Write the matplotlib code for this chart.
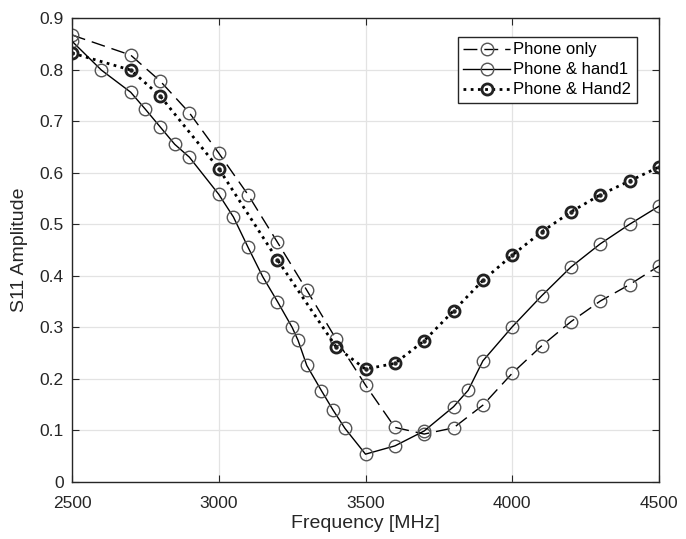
import matplotlib
matplotlib.use("Agg")
from matplotlib import pyplot as plt
import numpy as np

plt.rcParams["font.family"] = ["Liberation Sans", "DejaVu Sans"]

# phone only (dashed)
freq_phone = [2500, 2700, 2800, 2900, 3000, 3100, 3200, 3300, 3400, 3500,
              3600, 3700, 3800, 3900, 4000, 4100, 4200, 4300, 4400, 4500]
s11_phone = [0.867, 0.828, 0.778, 0.716, 0.638, 0.557, 0.465, 0.372, 0.277, 0.188,
             0.106, 0.093, 0.105, 0.149, 0.211, 0.264, 0.311, 0.351, 0.383, 0.419]

# phone & hand1 (solid)
freq_hand1 = [2500, 2600, 2700, 2750, 2800, 2850, 2900, 3000, 3050, 3100, 3150,
              3200, 3250, 3270, 3300, 3350, 3390, 3430, 3500, 3600, 3700, 3800,
              3850, 3900, 4000, 4100, 4200, 4300, 4400, 4500]
s11_hand1 = [0.855, 0.799, 0.756, 0.723, 0.689, 0.655, 0.630, 0.558, 0.514, 0.455, 0.398,
             0.350, 0.300, 0.275, 0.226, 0.177, 0.139, 0.104, 0.054, 0.070, 0.099, 0.146,
             0.178, 0.235, 0.301, 0.361, 0.417, 0.462, 0.500, 0.535]

# phone & hand2 (dotted)
freq_hand2 = [2500, 2700, 2800, 3000, 3200, 3400, 3500, 3600, 3700, 3800,
              3900, 4000, 4100, 4200, 4300, 4400, 4500]
s11_hand2 = [0.832, 0.799, 0.749, 0.608, 0.431, 0.262, 0.219, 0.230, 0.274, 0.332,
             0.391, 0.440, 0.485, 0.524, 0.557, 0.584, 0.611]

xticks = [2500, 3000, 3500, 4000, 4500]
yticks = [0, 0.1, 0.2, 0.3, 0.4, 0.5, 0.6, 0.7, 0.8, 0.9]

fig = plt.figure(figsize=(6.86, 5.39), dpi=100)
ax = fig.add_axes([72 / 686, 1 - 482 / 539, (659 - 72) / 686, (482 - 18) / 539])

mk_gray = "#555555"
ax.plot(freq_phone, s11_phone, color="black", linestyle=(0, (10, 5)), linewidth=1.0,
        marker="o", markersize=9, markerfacecolor="none", markeredgecolor=mk_gray,
        markeredgewidth=1.0, label="Phone only")
ax.plot(freq_hand1, s11_hand1, color="black", linestyle="-", linewidth=1.0,
        marker="o", markersize=9, markerfacecolor="none", markeredgecolor=mk_gray,
        markeredgewidth=1.0, label="Phone & hand1")
ax.plot(freq_hand2, s11_hand2, color="black", linestyle=(0, (1, 1.6)), linewidth=2.0,
        marker="o", markersize=8, markerfacecolor="none", markeredgecolor="#222222",
        markeredgewidth=2.0, label="Phone & Hand2")
ax.plot(freq_hand2, s11_hand2, linestyle="none", marker="o", markersize=2.2,
        color="#222222")

ax.set_xlim(2500, 4500)
ax.set_ylim(0, 0.9)
ax.set_xticks(xticks)
ax.set_yticks(yticks)
ax.set_yticklabels(["0", "0.1", "0.2", "0.3", "0.4", "0.5", "0.6", "0.7", "0.8", "0.9"])
ax.grid(True, color="#e3e3e3", linewidth=0.9)
ax.set_axisbelow(True)
for sp in ax.spines.values():
    sp.set_color("#262626")
    sp.set_linewidth(1.0)
ax.tick_params(direction="in", length=5, colors="#262626", labelsize=12.5,
               top=True, right=True)
ax.tick_params(axis="x", pad=10)
ax.tick_params(axis="y", pad=6)

ax.set_xlabel("Frequency [MHz]", fontsize=14, color="#262626", labelpad=3)
ax.set_ylabel("S11 Amplitude", fontsize=14, color="#262626", labelpad=8)

leg = ax.legend(loc="upper right", bbox_to_anchor=(0.963, 0.96), fontsize=12,
                fancybox=False, framealpha=1, edgecolor="#262626", handlelength=2.8,
                handletextpad=0.2, borderpad=0.35, labelspacing=0.3, borderaxespad=0)
leg.get_frame().set_linewidth(1.0)

fig.savefig("out.png", dpi=100)
